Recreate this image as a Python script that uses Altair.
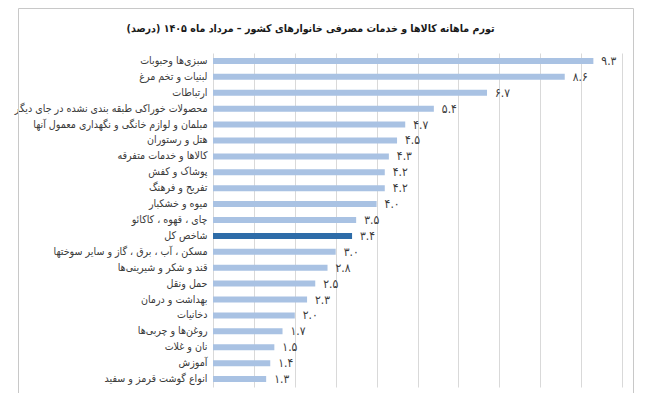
import altair as alt
import pandas as pd

# Monthly inflation by group (percent), top to bottom as in the source chart
categories = [
    "سبزی‌ها وحبوبات",
    "لبنیات و تخم مرغ",
    "ارتباطات",
    "محصولات خوراکی طبقه بندی نشده در جای دیگر",
    "مبلمان و لوازم خانگی و نگهداری معمول آنها",
    "هتل و رستوران",
    "کالاها و خدمات متفرقه",
    "پوشاک و کفش",
    "تفریح و فرهنگ",
    "میوه و خشکبار",
    "چای ، قهوه ، کاکائو",
    "شاخص کل",
    "مسکن ، آب ، برق ، گاز و سایر سوختها",
    "قند و شکر و شیرینی‌ها",
    "حمل ونقل",
    "بهداشت و درمان",
    "دخانیات",
    "روغن‌ها و چربی‌ها",
    "نان و غلات",
    "آموزش",
    "انواع گوشت قرمز و سفید",
]
values = [9.3, 8.6, 6.7, 5.4, 4.7, 4.5, 4.3, 4.2, 4.2, 4.0, 3.5, 3.4,
          3.0, 2.8, 2.5, 2.3, 2.0, 1.7, 1.5, 1.4, 1.3]
highlight = "شاخص کل"
grid_ticks = list(range(0, 11))

TITLE = "تورم ماهانه کالاها و خدمات مصرفی خانوارهای کشور – مرداد ماه ۱۴۰۵ (درصد)"
FONT = "DejaVu Sans Condensed, DejaVu Sans"
RLM = "\u200f"
FA_DIGITS = str.maketrans("0123456789", "۰۱۲۳۴۵۶۷۸۹")

names = [RLM + c + RLM for c in categories]
df = pd.DataFrame({"category": names, "value": values})
df["label"] = [f"{v:.1f}".translate(FA_DIGITS) for v in values]
df["group"] = ["total" if c == highlight else "group" for c in categories]

base = alt.Chart(df).encode(
    y=alt.Y("category:N", sort=names,
            axis=alt.Axis(title=None, ticks=False, domain=False, labelLimit=400,
                          labelPadding=6, labelFontSize=10.6, labelColor="#3A3A3A",
                          labelFont=FONT)),
    x=alt.X("value:Q", scale=alt.Scale(domain=[0, 10], nice=False),
            axis=alt.Axis(title=None, values=grid_ticks, labels=False, ticks=False,
                          domain=False, grid=True, gridColor="#D9D9D9")),
)

bars = base.mark_bar(size=6).encode(
    color=alt.Color("group:N", scale=alt.Scale(domain=["group", "total"],
                                               range=["#A9C2E3", "#2E6CA8"]),
                    legend=None)
)
text = base.mark_text(align="left", dx=8, fontSize=12, font=FONT, color="#3A3A3A").encode(
    text="label:N"
)

# outer chart-area border (top, left, right edges), on half pixels so it stays crisp
one = pd.DataFrame({"a": [0]})
border = dict(color="#C8C8C8", strokeWidth=1, clip=False)
top_edge = alt.Chart(one).mark_rule(**border).encode(
    x=alt.value(-194.5), x2=alt.value(420.5), y=alt.value(-44.5))
left_edge = alt.Chart(one).mark_rule(**border).encode(
    x=alt.value(-194.5), y=alt.value(-44.5), y2=alt.value(360))
right_edge = alt.Chart(one).mark_rule(**border).encode(
    x=alt.value(420.5), y=alt.value(-44.5), y2=alt.value(360))

chart = alt.layer(top_edge, left_edge, right_edge, bars, text).properties(
    width=409, height=334,
    padding={"left": 205, "top": 45, "right": 20, "bottom": 6},
    autosize=alt.AutoSizeParams(type="none"),
    title=alt.TitleParams(RLM + TITLE + RLM, anchor="middle", dx=-107, offset=-37,
                          baseline="bottom", fontSize=10.6, fontWeight="bold",
                          font=FONT, color="#1A1A1A"),
).configure_view(stroke=None)

chart.save("out.html", embed_options={"renderer": "svg", "actions": False})
